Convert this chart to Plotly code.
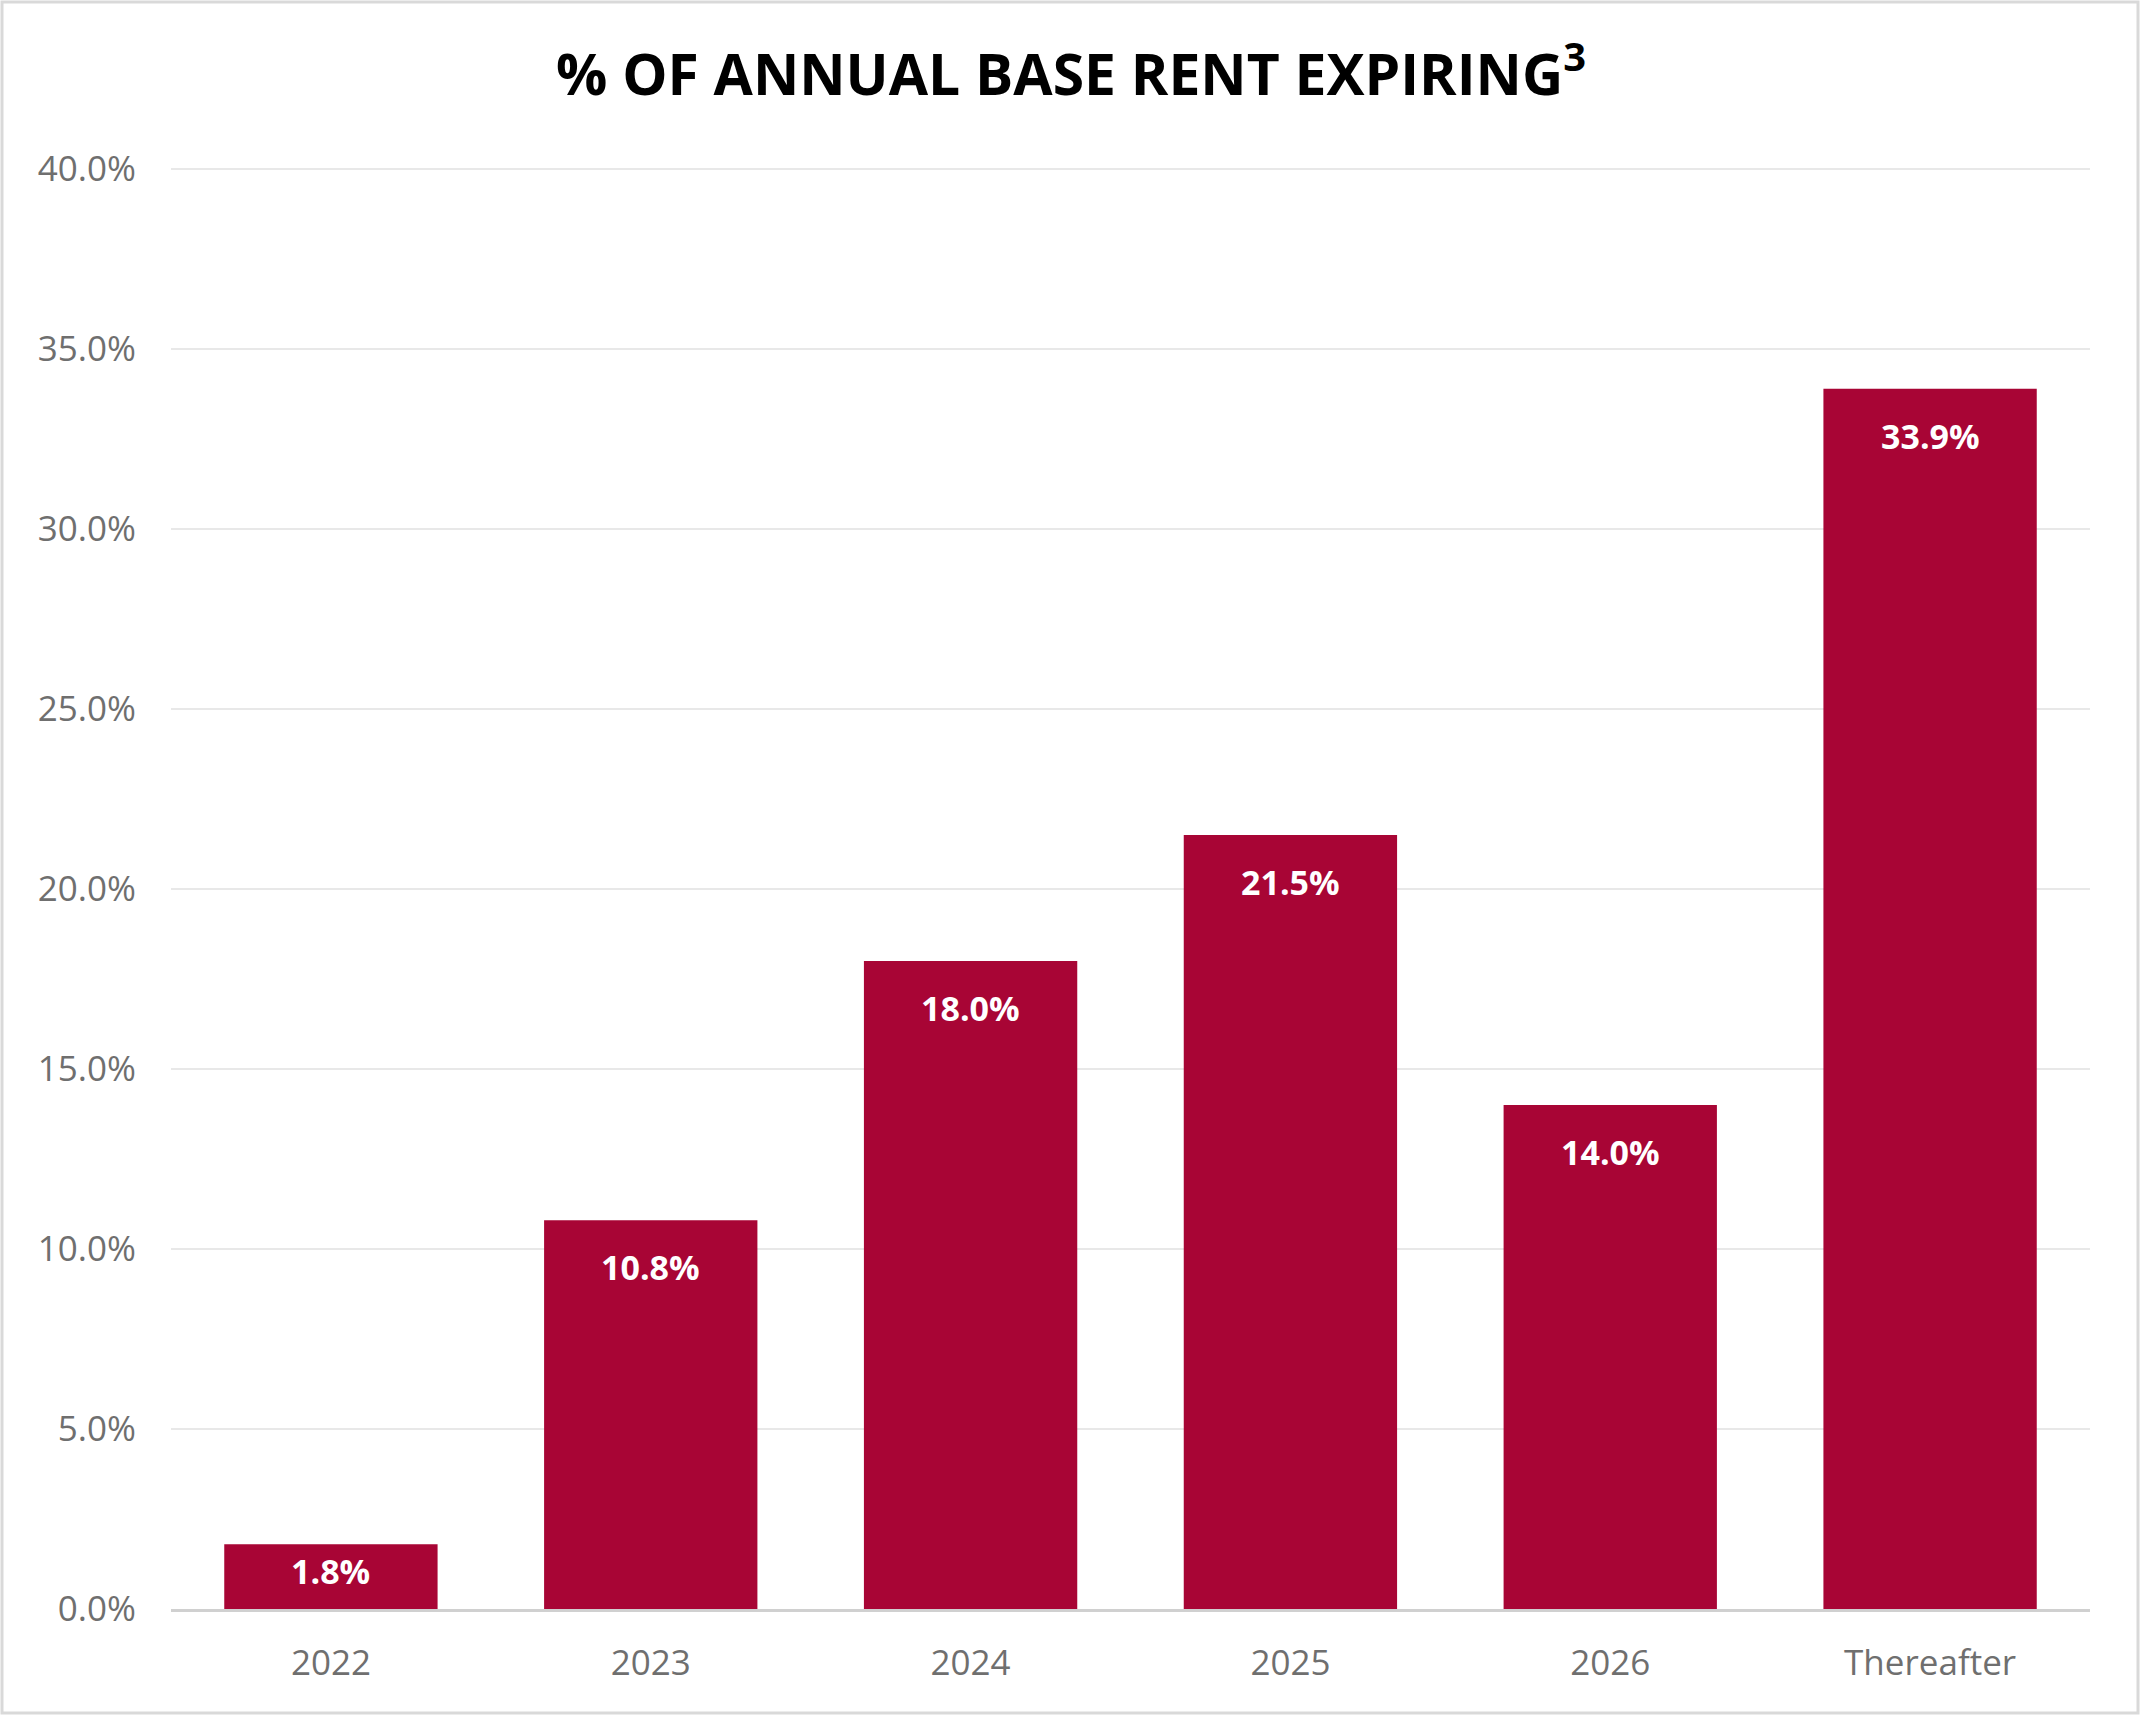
import plotly.graph_objects as go

categories = ["2022", "2023", "2024", "2025", "2026", "Thereafter"]
values = [1.8, 10.8, 18.0, 21.5, 14.0, 33.9]
y_ticks = [0, 5, 10, 15, 20, 25, 30, 35, 40]
y_tick_labels = [f"{t:.1f}%" for t in y_ticks]
labels = [f"{v:.1f}%" for v in values]

W, H = 2142, 1717
L, R, T, B = 171, 52, 168, 108
plot_w = W - L - R
plot_h = H - T - B
Y_MAX = 40.03
px_per_unit = plot_h / Y_MAX

BAR_COLOR = "#A80535"
FONT = "Open Sans"

fig = go.Figure()
fig.add_trace(go.Bar(
    x=categories, y=values,
    marker=dict(color=BAR_COLOR, line=dict(width=0)),
    width=0.667,
    hoverinfo="skip",
))

annotations = []
for i, (v, t) in enumerate(zip(values, labels)):
    shift = min(47, v * px_per_unit / 2 - 6)
    annotations.append(dict(
        x=i, y=v, xref="x", yref="y", text=f"<b>{t}</b>", showarrow=False,
        yanchor="middle", yshift=-shift,
        font=dict(family=FONT, size=34, color="white"),
    ))

fig.update_layout(
    width=W, height=H,
    margin=dict(l=L, r=R, t=T, b=B, autoexpand=False),
    paper_bgcolor="white", plot_bgcolor="white",
    showlegend=False,
    title=dict(
        text="<b>% OF ANNUAL BASE RENT EXPIRING<sup>3</sup></b>",
        x=0.5, xanchor="center", y=1 - 75 / H, yanchor="middle",
        font=dict(family=FONT, size=57, color="black"),
    ),
    annotations=annotations,
    shapes=[dict(
        type="rect", xref="paper", yref="paper",
        x0=(2 - L) / plot_w, x1=(W - 4 - L) / plot_w,
        y0=-((H - 4) - (H - B)) / plot_h, y1=((H - B) - 2) / plot_h,
        line=dict(color="#d9d9d9", width=3), fillcolor="rgba(0,0,0,0)",
        layer="below",
    )],
)

fig.update_xaxes(
    type="category", range=[-0.5, 5.5],
    showgrid=False, showline=True, linecolor="#d0d0d0", linewidth=3,
    ticks="", ticklabelstandoff=21,
    tickfont=dict(family=FONT, size=35, color="#6f6f6f"),
    fixedrange=True,
)
fig.update_yaxes(
    range=[0, Y_MAX], tickvals=y_ticks, ticktext=y_tick_labels,
    showgrid=True, gridcolor="#e8e8e8", gridwidth=2,
    zeroline=False, showline=False, ticks="", ticklabelstandoff=34,
    tickfont=dict(family=FONT, size=35, color="#6f6f6f"),
    fixedrange=True,
)

fig.write_html(
    "out.html",
    config={"displayModeBar": False},
    post_script="document.body.style.margin='0';document.body.style.overflow='hidden';",
)
